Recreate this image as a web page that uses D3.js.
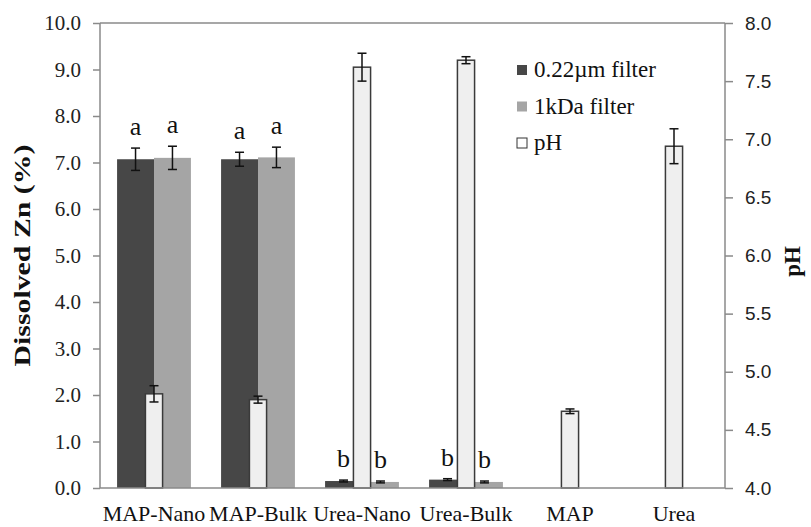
<!DOCTYPE html>
<html>
<head>
<meta charset="utf-8">
<script src="https://cdn.jsdelivr.net/npm/d3@7"></script>
<style>
  body { margin: 0; background: #fff; }
  .axis path, .axis line { stroke: #8a8a8a; stroke-width: 1.5; }
  .axisL text { font-family: "Liberation Serif", serif; font-size: 21px; fill: #222; }
  .axisR text { font-family: "Liberation Sans", sans-serif; font-size: 19px; fill: #222; }
  .xlab { font-family: "Liberation Serif", serif; font-size: 22px; fill: #111; }
  .letter { font-family: "Liberation Serif", serif; font-size: 26px; fill: #111; }
  .legend text { font-family: "Liberation Serif", serif; font-size: 23px; fill: #111; }
  .title { font-family: "Liberation Serif", serif; font-size: 23px; font-weight: bold; fill: #111; }
</style>
</head>
<body>
<div id="chart"></div>
<script>
// data
var categories = ['MAP-Nano', 'MAP-Bulk', 'Urea-Nano', 'Urea-Bulk', 'MAP', 'Urea'];
var zn022 = [7.07, 7.07, 0.15, 0.18, null, null];
var zn022Err = [0.24, 0.15, 0.02, 0.02, null, null];
var zn1k = [7.10, 7.11, 0.13, 0.13, null, null];
var zn1kErr = [0.25, 0.22, 0.02, 0.02, null, null];
var ph = [4.81, 4.76, 7.62, 7.68, 4.66, 6.94];
var phErr = [0.07, 0.03, 0.12, 0.03, 0.02, 0.15];
var sigLetters = ['a', 'a', 'b', 'b', '', ''];
var leftTicks = [0, 1, 2, 3, 4, 5, 6, 7, 8, 9, 10];
var rightTicks = [4.0, 4.5, 5.0, 5.5, 6.0, 6.5, 7.0, 7.5, 8.0];
var legendLabels = ['0.22\u00b5m filter', '1kDa filter', 'pH'];

var width = 811, height = 527;
const margin = { top: 23, right: 86, bottom: 39, left: 100 };

var colDark = '#474747', colLight = '#a5a5a5', colPh = '#efefef';

var svg = d3.select('#chart').append('svg')
  .attr('width', width)
  .attr('height', height);

var x = d3.scaleBand()
  .domain(categories)
  .range([margin.left + 2, width - margin.right + 1])
  .paddingInner(0.29)
  .paddingOuter(0.145);

var step = x.step();
var xIn = d3.scaleBand()
  .domain(['f022', 'f1k'])
  .range([0, x.bandwidth()]);

var y = d3.scaleLinear()
  .domain([0, 10])
  .range([height - margin.bottom, margin.top]);

var yPh = d3.scaleLinear()
  .domain([4, 8])
  .range([height - margin.bottom, margin.top]);

var phW = step * 0.165;

// top border of plot area
svg.append('line')
  .attr('x1', margin.left).attr('x2', width - margin.right)
  .attr('y1', margin.top).attr('y2', margin.top)
  .attr('stroke', '#8a8a8a').attr('stroke-width', 1.5);

// Zn bars
var znSeries = [
  { key: 'f022', vals: zn022, errs: zn022Err, col: colDark },
  { key: 'f1k', vals: zn1k, errs: zn1kErr, col: colLight }
];

znSeries.forEach(function(s) {
  var rows = categories.map((c, i) => ({ cat: c, v: s.vals[i], e: s.errs[i], l: sigLetters[i] }))
    .filter(d => d.v != null);

  svg.selectAll('rect.bar-' + s.key)
    .data(rows)
    .enter()
    .append('rect')
    .attr('class', 'bar-' + s.key)
    .attr('x', d => x(d.cat) + xIn(s.key))
    .attr('width', xIn.bandwidth())
    .attr('y', d => y(d.v))
    .attr('height', d => y(0) - y(d.v))
    .style('fill', s.col);
});

// pH bars (secondary axis), centered on each group
var phRows = categories.map((c, i) => ({ cat: c, v: ph[i], e: phErr[i] }));

svg.selectAll('rect.ph')
  .data(phRows)
  .enter()
  .append('rect')
  .attr('class', 'ph')
  .attr('x', d => x(d.cat) + x.bandwidth() / 2 - phW / 2)
  .attr('width', phW)
  .attr('y', d => yPh(d.v))
  .attr('height', d => yPh(4) - yPh(d.v))
  .style('fill', colPh)
  .style('stroke', '#3a3a3a')
  .style('stroke-width', 1.5);

// error bars
function errBars(rows, cx, sc) {
  var g = svg.append('g').attr('stroke', '#111').attr('stroke-width', 1.5);
  rows.forEach(function(d) {
    var xc = cx(d);
    g.append('line').attr('x1', xc).attr('x2', xc)
      .attr('y1', sc(d.v + d.e)).attr('y2', sc(d.v - d.e));
    g.append('line').attr('x1', xc - 4.5).attr('x2', xc + 4.5)
      .attr('y1', sc(d.v + d.e)).attr('y2', sc(d.v + d.e));
    g.append('line').attr('x1', xc - 4.5).attr('x2', xc + 4.5)
      .attr('y1', sc(d.v - d.e)).attr('y2', sc(d.v - d.e));
  });
}

znSeries.forEach(function(s) {
  var rows = categories.map((c, i) => ({ cat: c, v: s.vals[i], e: s.errs[i], l: sigLetters[i] }))
    .filter(d => d.v != null);
  var cx = d => x(d.cat) + xIn(s.key) + xIn.bandwidth() / 2;
  errBars(rows, cx, y);

  // significance letters
  svg.selectAll('text.letter-' + s.key)
    .data(rows)
    .enter()
    .append('text')
    .attr('class', 'letter')
    .attr('x', cx)
    .attr('y', d => y(d.v + d.e) - 13)
    .style('text-anchor', 'middle')
    .text(d => d.l);
});

errBars(phRows, d => x(d.cat) + x.bandwidth() / 2, yPh);

// axes
var yAxis = d3.axisLeft(y)
  .tickValues(leftTicks)
  .tickSize(7)
  .tickPadding(12)
  .tickFormat(d3.format('.1f'));

svg.append('g')
  .attr('class', 'axis axisL')
  .attr('transform', `translate(${margin.left},0)`)
  .call(yAxis)
  .call(g => g.select('.domain').attr('d', `M0,${margin.top}V${height - margin.bottom}`));

var yAxisR = d3.axisRight(yPh)
  .tickValues(rightTicks)
  .tickSize(8)
  .tickPadding(12)
  .tickFormat(d3.format('.1f'));

svg.append('g')
  .attr('class', 'axis axisR')
  .attr('transform', `translate(${width - margin.right},0)`)
  .call(yAxisR)
  .call(g => g.select('.domain').attr('d', `M0,${margin.top}V${height - margin.bottom}`));

// x axis line and labels
svg.append('line')
  .attr('x1', margin.left).attr('x2', width - margin.right)
  .attr('y1', y(0)).attr('y2', y(0))
  .attr('stroke', '#8a8a8a').attr('stroke-width', 1.5);

svg.selectAll('text.xlab')
  .data(categories)
  .enter()
  .append('text')
  .attr('class', 'xlab')
  .attr('x', d => x(d) + x.bandwidth() / 2)
  .attr('y', height - 6)
  .style('text-anchor', 'middle')
  .text(d => d);

// axis titles
svg.append('text')
  .attr('class', 'title')
  .attr('transform', `translate(30, ${(margin.top + height - margin.bottom) / 2}) rotate(-90)`)
  .style('text-anchor', 'middle')
  .attr('textLength', 222)
  .attr('lengthAdjust', 'spacingAndGlyphs')
  .text('Dissolved Zn (%)');

svg.append('text')
  .attr('class', 'title')
  .attr('transform', `translate(800, ${(margin.top + height - margin.bottom) / 2 + 6}) rotate(-90)`)
  .style('text-anchor', 'middle')
  .text('pH');

// legend
var legend = svg.append('g').attr('class', 'legend').attr('transform', 'translate(517, 70)');
var legCols = [colDark, colLight, '#fff'];
legendLabels.forEach(function(t, i) {
  legend.append('rect')
    .attr('x', 0).attr('y', i * 36.5 - 5)
    .attr('width', 10).attr('height', 10)
    .style('fill', legCols[i])
    .style('stroke', i == 2 ? '#333' : 'none')
    .style('stroke-width', 1);
  legend.append('text')
    .attr('x', 17).attr('y', i * 36.5 + 7)
    .text(t);
});
</script>
</body>
</html>
